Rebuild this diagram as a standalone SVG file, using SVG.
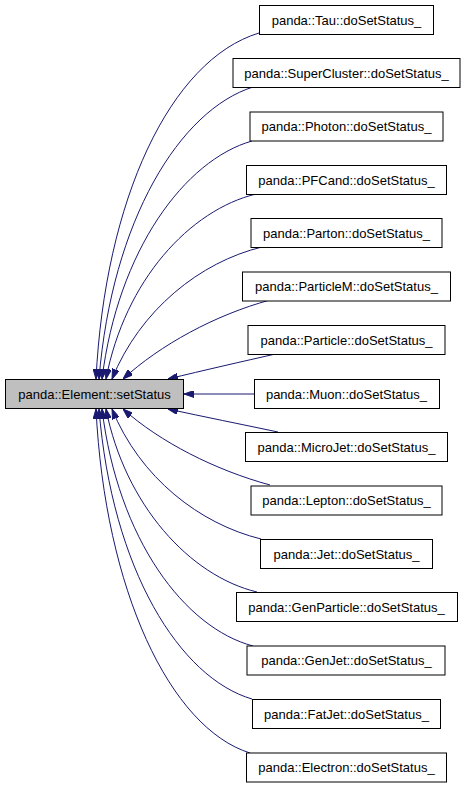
<svg xmlns="http://www.w3.org/2000/svg" width="467" height="787" viewBox="0 0 467 787">
<style>
.n rect{fill:#ffffff;stroke:#000000;stroke-width:1}
#setStatus rect{fill:#bfbfbf}
text{font-family:"Liberation Sans",Arial,sans-serif;font-size:13px;text-anchor:middle;fill:#000000}
.e path{fill:none;stroke:#191970;stroke-width:1;marker-end:url(#arr)}
</style>
<defs>
<marker id="arr" viewBox="0 0 10 7" refX="10" refY="3.5" markerWidth="10" markerHeight="7" markerUnits="userSpaceOnUse" orient="auto">
<path d="M0,0 L10,3.5 L0,7 Z" fill="#191970" stroke="#191970" stroke-width="1"/>
</marker>
</defs>
<g id="connectors" class="e">
<path d="M259,33 C170,60 105,200 96,379"/>
<path d="M253,87 C180,110 112,220 99,379"/>
<path d="M252,141 C185,160 118,250 102,379"/>
<path d="M256,194 C190,210 125,280 106,379"/>
<path d="M262,247 C200,262 140,310 112,379"/>
<path d="M270,300 C215,315 160,345 123,379"/>
<path d="M280,353 C240,362 205,370 168,379"/>
<path d="M254,394 L184,394"/>
<path d="M278,432 C240,424 205,417 168,409"/>
<path d="M270,485 C215,470 160,442 123,409"/>
<path d="M261,539 C200,524 140,478 112,409"/>
<path d="M257,592 C190,576 125,505 106,409"/>
<path d="M253,646 C185,628 118,540 102,409"/>
<path d="M252,699 C180,678 112,570 99,409"/>
<path d="M250,753 C170,728 105,590 96,409"/>
</g>
<g id="setStatus" class="n"><rect x="5.5" y="379.5" width="178" height="29"/><text x="94.5" y="398.5">panda::Element::setStatus</text></g>
<g id="tau" class="n"><rect x="259.5" y="5.5" width="174" height="29"/><text x="346.5" y="24.5">panda::Tau::doSetStatus_</text></g>
<g id="supercluster" class="n"><rect x="233" y="58.5" width="227" height="29"/><text x="346.5" y="77.5">panda::SuperCluster::doSetStatus_</text></g>
<g id="photon" class="n"><rect x="250" y="112" width="193" height="29"/><text x="346.5" y="131">panda::Photon::doSetStatus_</text></g>
<g id="pfcand" class="n"><rect x="246.5" y="165.5" width="200" height="29"/><text x="346.5" y="184.5">panda::PFCand::doSetStatus_</text></g>
<g id="parton" class="n"><rect x="251" y="218.5" width="191" height="29"/><text x="346.5" y="237.5">panda::Parton::doSetStatus_</text></g>
<g id="particlem" class="n"><rect x="242.5" y="272" width="208" height="29"/><text x="346.5" y="291">panda::ParticleM::doSetStatus_</text></g>
<g id="particle" class="n"><rect x="248" y="325.5" width="197" height="29"/><text x="346.5" y="344.5">panda::Particle::doSetStatus_</text></g>
<g id="muon" class="n"><rect x="254.5" y="379.5" width="185" height="29"/><text x="346.5" y="398.5">panda::Muon::doSetStatus_</text></g>
<g id="microjet" class="n"><rect x="245.5" y="432.5" width="202" height="29"/><text x="346.5" y="451.5">panda::MicroJet::doSetStatus_</text></g>
<g id="lepton" class="n"><rect x="251" y="486" width="191" height="29"/><text x="346.5" y="505">panda::Lepton::doSetStatus_</text></g>
<g id="jet" class="n"><rect x="260.5" y="539.5" width="172" height="29"/><text x="346.5" y="558.5">panda::Jet::doSetStatus_</text></g>
<g id="genparticle" class="n"><rect x="236.5" y="592.5" width="221" height="29"/><text x="346.5" y="611.5">panda::GenParticle::doSetStatus_</text></g>
<g id="genjet" class="n"><rect x="247" y="646" width="198" height="29"/><text x="346.5" y="665">panda::GenJet::doSetStatus_</text></g>
<g id="fatjet" class="n"><rect x="252.5" y="699.5" width="188" height="29"/><text x="346.5" y="718.5">panda::FatJet::doSetStatus_</text></g>
<g id="electron" class="n"><rect x="246.5" y="753" width="200" height="29"/><text x="346.5" y="772">panda::Electron::doSetStatus_</text></g>
</svg>
